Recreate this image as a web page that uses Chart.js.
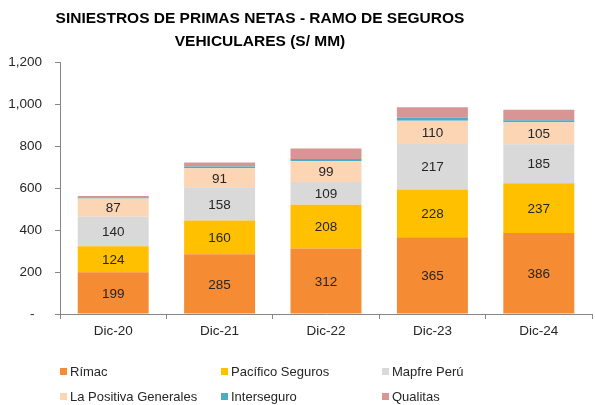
<!DOCTYPE html>
<html><head><meta charset="utf-8">
<script src="https://cdn.jsdelivr.net/npm/chart.js@4.4.1/dist/chart.umd.min.js"></script>
<style>
html,body{margin:0;padding:0;background:#fff;}
#wrap{position:relative;width:595px;height:405px;font-family:"Liberation Sans",Arial,sans-serif;}
#title{position:absolute;left:0;width:520px;top:7px;text-align:center;font-weight:bold;font-size:15.5px;line-height:22.5px;color:#000;}
#c{position:absolute;left:0;top:0;}
.li{position:absolute;font-size:13px;color:#262626;white-space:nowrap;line-height:15px}
.li span{display:inline-block;width:6.5px;height:6.5px;margin-right:3.5px;vertical-align:1px}
</style></head>
<body>
<div id="wrap">
<canvas id="c" width="595" height="405"></canvas>
<div id="title">SINIESTROS DE PRIMAS NETAS - RAMO DE SEGUROS<br>VEHICULARES (S/ MM)</div>
<div id="legend"></div>
</div>
<script>
const categories = ['Dic-20','Dic-21','Dic-22','Dic-23','Dic-24'];
const seriesNames = ['Rímac','Pacífico Seguros','Mapfre Perú','La Positiva Generales','Interseguro','Qualitas'];
const rimac = [199,285,312,365,386];
const pacifico = [124,160,208,228,237];
const mapfre = [140,158,109,217,185];
const laPositiva = [87,91,99,110,105];
const interseguro = [6,8,10,16,10];
const qualitas = [6,20,50,48,50];
const yTicks = [0,200,400,600,800,1000,1200];

const colors = ['#F58B32','#FFC000','#D9D9D9','#FCD5B5','#4BACC6','#D99594'];
const values = [rimac,pacifico,mapfre,laPositiva,interseguro,qualitas];
const labelled = [true,true,true,true,false,false];

const datasets = values.map((v,i)=>({
  label: seriesNames[i], data: v, backgroundColor: colors[i], borderWidth:0,
  showLabels: labelled[i], categoryPercentage:1, barPercentage:0.667
}));

const segLabels = {
  id:'segLabels',
  afterDatasetsDraw(chart){
    const ctx = chart.ctx;
    ctx.save();
    ctx.font = '13.5px "Liberation Sans", Arial, sans-serif';
    ctx.fillStyle = '#262626'; ctx.textAlign='center'; ctx.textBaseline='middle';
    chart.data.datasets.forEach((ds,i)=>{
      if(!ds.showLabels) return;
      chart.getDatasetMeta(i).data.forEach((bar,j)=>{
        const p = bar.getProps(['x','y','base'],true);
        ctx.fillText(String(ds.data[j]), p.x, (p.y+p.base)/2 + 1);
      });
    });
    ctx.restore();
  }
};

new Chart(document.getElementById('c'), {
  type:'bar',
  data:{labels:categories, datasets},
  options:{
    responsive:false, animation:false, devicePixelRatio:1,
    layout:{padding:{left:0,right:3,top:62,bottom:61}},
    plugins:{legend:{display:false},title:{display:false},tooltip:{enabled:false}},
    scales:{
      x:{stacked:true,
        grid:{display:true,drawOnChartArea:false,drawTicks:true,tickLength:5,offset:true,color:'#868686'},
        border:{color:'#868686',width:1},
        ticks:{font:{size:13.5,family:'"Liberation Sans", Arial'},color:'#262626',padding:4},
        afterFit(s){s.height=30;}
      },
      y:{stacked:true,min:0,max:1200,
        afterBuildTicks(s){s.ticks = yTicks.map(v=>({value:v}));},
        grid:{display:true,drawOnChartArea:false,drawTicks:true,tickLength:5,color:'#868686'},
        border:{color:'#868686',width:1},
        ticks:{font:{size:13.5,family:'"Liberation Sans", Arial'},color:'#262626',padding:13,
          callback:(v)=> v===0 ? '-  ' : v.toLocaleString('en-US')},
        afterFit(s){s.width=60;}
      }
    }
  },
  plugins:[segLabels]
});

const legendPos = [[60,363.5],[221,363.5],[382,363.5],[60,388.5],[221,388.5],[382,388.5]];
const lg = document.getElementById('legend');
seriesNames.forEach((n,i)=>{
  const d = document.createElement('div');
  d.className='li';
  d.style.left = legendPos[i][0]+'px';
  d.style.top = legendPos[i][1]+'px';
  const sw = document.createElement('span');
  sw.style.background = colors[i];
  d.appendChild(sw);
  d.appendChild(document.createTextNode(n));
  lg.appendChild(d);
});
</script>
</body></html>
